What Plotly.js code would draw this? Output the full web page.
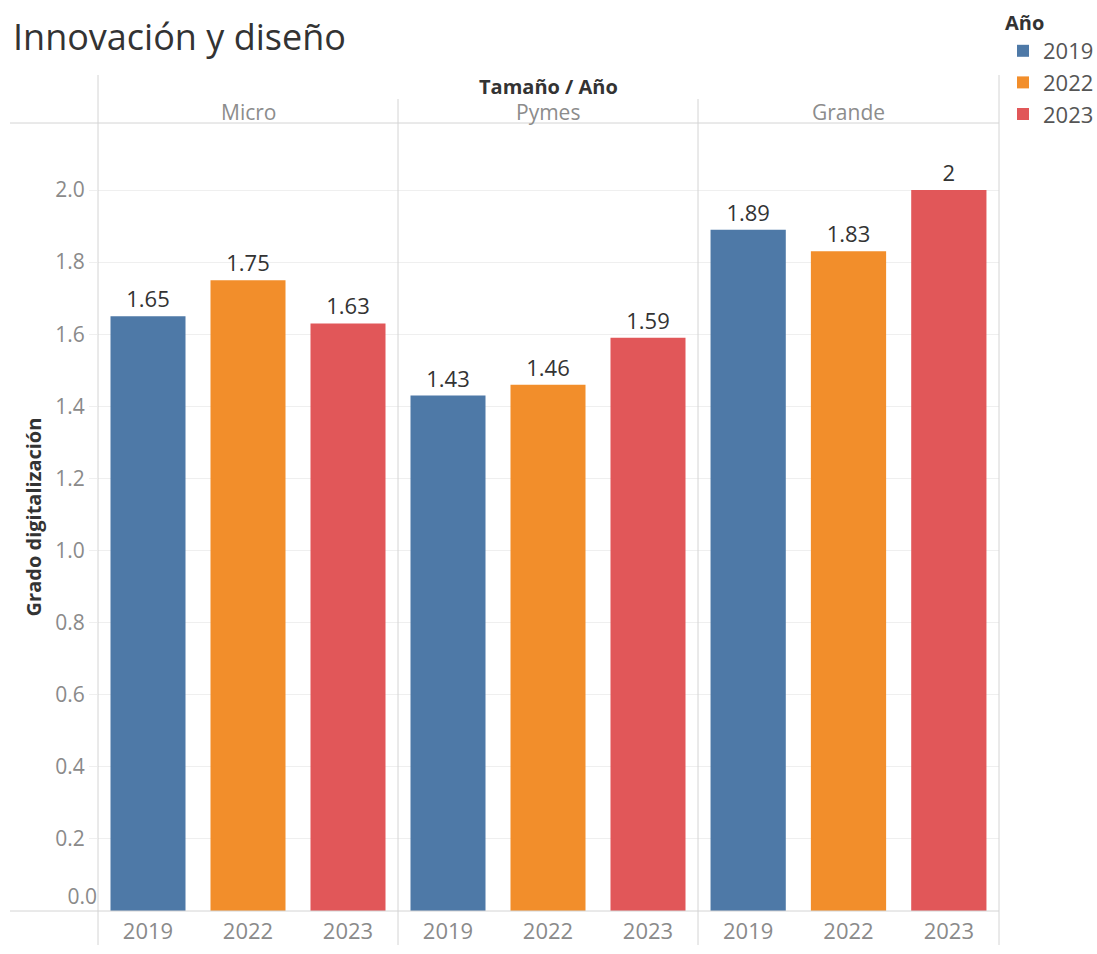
<!DOCTYPE html>
<html>
<head>
<meta charset="utf-8">
<script src="https://cdn.plot.ly/plotly-3.0.1.min.js"></script>
<style>
  html, body { margin: 0; padding: 0; background: #fff; }
  #chart { width: 1097px; height: 954px; }
</style>
</head>
<body>
<div id="chart"></div>
<script>
const sizes = ["Micro", "Pymes", "Grande"];
const years = ["2019", "2022", "2023"];
const v2019 = [1.65, 1.43, 1.89];
const v2022 = [1.75, 1.46, 1.83];
const v2023 = [1.63, 1.59, 2];
const yTicks = [0.2, 0.4, 0.6, 0.8, 1.0, 1.2, 1.4, 1.6, 1.8, 2.0];
const colors = ["#4e79a7", "#f28e2b", "#e15759"];

const seriesByYear = [v2019, v2022, v2023];
const FONT = '"Open Sans", "Noto Sans", sans-serif';
const W = 1097, H = 954;
const mL = 98, mR = 98, mT = 123, mB = 43;
const pw = W - mL - mR, ph = H - mT - mB;
const px = x => (x - mL) / pw;
const py = y => (H - mB - y) / ph;

const traces = [];
sizes.forEach((s, si) => {
  const xa = si === 0 ? 'x' : 'x' + (si + 1);
  years.forEach((yr, yi) => {
    const val = seriesByYear[yi][si];
    traces.push({
      type: 'bar',
      x: [yr],
      y: [val],
      xaxis: xa,
      yaxis: 'y',
      name: yr,
      legendgroup: yr,
      showlegend: si === 0,
      marker: { color: colors[yi] },
      text: [String(val)],
      textposition: 'outside',
      cliponaxis: false,
      textfont: { size: 22, color: '#333333', family: FONT },
      hovertemplate: s + ' ' + yr + ': %{y}<extra></extra>'
    });
  });
});
// invisible trace on overlay axis for the raised 0.0 label
traces.push({ type: 'scatter', x: [years[0]], y: [0], xaxis: 'x', yaxis: 'y2', mode: 'markers', marker: { opacity: 0 }, showlegend: false, hoverinfo: 'skip' });

const yRange = [0, 2.186];
const xBase = {
  type: 'category',
  categoryorder: 'array',
  categoryarray: years,
  range: [-0.5, 2.5],
  anchor: 'y',
  showgrid: false,
  zeroline: false,
  showline: false,
  ticks: 'outside',
  ticklen: 1,
  tickcolor: 'rgba(0,0,0,0)',
  tickfont: { size: 22, color: '#8a8a8a', family: FONT },
  fixedrange: true
};
const domains = [[0, px(398)], [px(398), px(698)], [px(698), 1]];

const layout = {
  width: W, height: H,
  margin: { l: mL, r: mR, t: mT, b: mB, pad: 0, autoexpand: false },
  paper_bgcolor: '#ffffff',
  plot_bgcolor: '#ffffff',
  font: { family: FONT, color: '#333' },
  barmode: 'overlay',
  bargap: 0.25,
  title: {
    text: 'Innovación y diseño',
    x: 13 / W, xref: 'container', xanchor: 'left',
    y: 1 - 37 / H, yref: 'container', yanchor: 'middle',
    font: { size: 36, color: '#333333', family: FONT }
  },
  xaxis: Object.assign({}, xBase, { domain: domains[0] }),
  xaxis2: Object.assign({}, xBase, { domain: domains[1] }),
  xaxis3: Object.assign({}, xBase, { domain: domains[2] }),
  yaxis: {
    range: yRange,
    tickvals: yTicks,
    tickformat: '.1f',
    showgrid: true,
    gridcolor: '#efefef',
    gridwidth: 1,
    zeroline: false,
    showline: false,
    ticks: 'outside',
    ticklen: 8,
    tickcolor: '#efefef',
    tickfont: { size: 21, color: '#8a8a8a', family: FONT },
    title: { text: '<b>Grado digitalización</b>', standoff: 8, font: { size: 20, color: '#333333', family: FONT } },
    fixedrange: true
  },
  yaxis2: {
    overlaying: 'y',
    range: yRange,
    tickvals: [0],
    ticktext: ['0.0'],
    ticklabelposition: 'outside top',
    showgrid: false, zeroline: false, showline: false,
    ticks: '',
    tickfont: { size: 21, color: '#8a8a8a', family: FONT },
    side: 'left',
    fixedrange: true
  },
  legend: {
    title: { text: '<b>Año</b>', side: 'top', font: { size: 20, color: '#333333', family: FONT } },
    x: px(1003), xanchor: 'left',
    y: py(4), yanchor: 'top',
    font: { size: 22, color: '#555555', family: FONT },
    tracegroupgap: 0,
    itemclick: false, itemdoubleclick: false,
    bgcolor: 'rgba(0,0,0,0)'
  },
  shapes: [
    { type: 'line', xref: 'paper', yref: 'paper', x0: 0, x1: 0, y0: py(945), y1: py(75), line: { color: '#d4d4d4', width: 1 } },
    { type: 'line', xref: 'paper', yref: 'paper', x0: px(398), x1: px(398), y0: py(945), y1: py(99), line: { color: '#d4d4d4', width: 1 } },
    { type: 'line', xref: 'paper', yref: 'paper', x0: px(698), x1: px(698), y0: py(945), y1: py(99), line: { color: '#d4d4d4', width: 1 } },
    { type: 'line', xref: 'paper', yref: 'paper', x0: 1, x1: 1, y0: py(945), y1: py(75), line: { color: '#d4d4d4', width: 1 } },
    { type: 'line', xref: 'paper', yref: 'paper', x0: px(10), x1: 1, y0: 1, y1: 1, line: { color: '#d4d4d4', width: 1 } },
    { type: 'line', xref: 'paper', yref: 'paper', x0: px(10), x1: 1, y0: 0, y1: 0, line: { color: '#d4d4d4', width: 1 } }
  ],
  annotations: [
    { text: '<b>Tamaño / Año</b>', xref: 'paper', yref: 'paper', x: px(548), y: py(87), xanchor: 'center', yanchor: 'middle', showarrow: false, font: { size: 20, color: '#333333', family: FONT } }
  ].concat(sizes.map((s, i) => ({
    text: s, xref: 'paper', yref: 'paper',
    x: (domains[i][0] + domains[i][1]) / 2, y: py(112),
    xanchor: 'center', yanchor: 'middle', showarrow: false,
    font: { size: 21, color: '#8c8c8c', family: FONT }
  })))
};

Plotly.newPlot('chart', traces, layout, { displayModeBar: false, responsive: false });
</script>
</body>
</html>
